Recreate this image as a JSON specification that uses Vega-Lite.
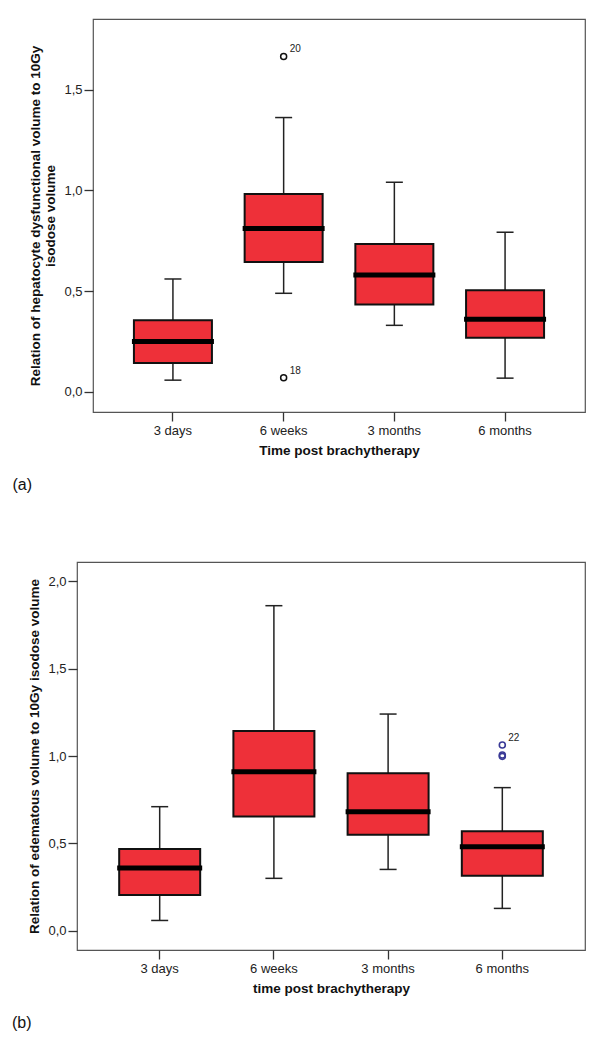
{
  "$schema": "https://vega.github.io/schema/vega-lite/v6.json",
  "background": "white",
  "padding": {"left": 10, "top": 18, "right": 10, "bottom": 5},
  "config": {
    "font": "Liberation Sans",
    "view": {"stroke": "#555", "strokeWidth": 1.2},
    "tick": {"opacity": 1},
    "axis": {"grid": false, "domain": false, "tickColor": "#333", "tickWidth": 1.3, "tickSize": 9, "labelFontSize": 13, "labelColor": "#222", "titleFontSize": 13.5, "titleFontWeight": "bold", "titleColor": "#111"},
    "title": {"fontSize": 16, "fontWeight": "normal", "color": "#111"}
  },
  "datasets": {
    "boxA": [
      {"group": "3 days", "lower": 0.058, "q1": 0.143, "median": 0.25, "q3": 0.355, "upper": 0.56},
      {"group": "6 weeks", "lower": 0.489, "q1": 0.644, "median": 0.81, "q3": 0.982, "upper": 1.361},
      {"group": "3 months", "lower": 0.33, "q1": 0.434, "median": 0.58, "q3": 0.734, "upper": 1.04},
      {"group": "6 months", "lower": 0.068, "q1": 0.268, "median": 0.36, "q3": 0.504, "upper": 0.792}
    ],
    "outA": [
      {"group": "6 weeks", "value": 1.664, "label": "20"},
      {"group": "6 weeks", "value": 0.07, "label": "18"}
    ],
    "boxB": [
      {"group": "3 days", "lower": 0.059, "q1": 0.204, "median": 0.359, "q3": 0.468, "upper": 0.71},
      {"group": "6 weeks", "lower": 0.3, "q1": 0.654, "median": 0.91, "q3": 1.143, "upper": 1.86},
      {"group": "3 months", "lower": 0.351, "q1": 0.55, "median": 0.681, "q3": 0.901, "upper": 1.24},
      {"group": "6 months", "lower": 0.128, "q1": 0.315, "median": 0.481, "q3": 0.569, "upper": 0.819}
    ],
    "outB": [
      {"group": "6 months", "value": 1.063, "label": "22"},
      {"group": "6 months", "value": 1.006, "label": ""},
      {"group": "6 months", "value": 0.998, "label": ""}
    ],
    "empty": []
  },
  "vconcat": [
    {
      "spacing": 0,
      "hconcat": [
        {"width": 1, "height": 1, "view": {"stroke": null}, "data": {"name": "empty"}, "mark": "point"},
        {
          "width": 492,
          "height": 393,
          "title": {"text": "(a)", "orient": "bottom", "anchor": "start", "frame": "bounds", "offset": 20, "dx": -16},
          "encoding": {
            "x": {"field": "group", "type": "nominal", "sort": ["3 days", "6 weeks", "3 months", "6 months"],
                  "scale": {"type": "band", "paddingInner": 0, "paddingOuter": 0.222},
                  "axis": {"title": "Time post brachytherapy", "labelAngle": 0, "labelPadding": 3, "titlePadding": 6}}
          },
          "layer": [
            {
              "data": {"name": "boxA"},
              "mark": {"type": "rule", "color": "#222", "strokeWidth": 1.5},
              "encoding": {
                "y": {"field": "lower", "type": "quantitative",
                      "scale": {"domain": [-0.1, 1.85], "nice": false, "zero": false},
                      "axis": {"title": ["Relation of hepatocyte dysfunctional volume to 10Gy", "isodose volume"], "values": [0, 0.5, 1, 1.5], "labelExpr": "replace(format(datum.value, '.1f'), '.', ',')", "labelPadding": 2, "titlePadding": 6}},
                "y2": {"field": "upper"}
              }
            },
            {
              "data": {"name": "boxA"},
              "mark": {"type": "tick", "color": "#222", "thickness": 1.5, "size": 17},
              "encoding": {"y": {"field": "lower", "type": "quantitative"}}
            },
            {
              "data": {"name": "boxA"},
              "mark": {"type": "tick", "color": "#222", "thickness": 1.5, "size": 17},
              "encoding": {"y": {"field": "upper", "type": "quantitative"}}
            },
            {
              "data": {"name": "boxA"},
              "mark": {"type": "bar", "size": 78, "fill": "#ee3039", "stroke": "#111", "strokeWidth": 2},
              "encoding": {"y": {"field": "q1", "type": "quantitative"}, "y2": {"field": "q3"}}
            },
            {
              "data": {"name": "boxA"},
              "mark": {"type": "tick", "color": "#000", "thickness": 5, "size": 82},
              "encoding": {"y": {"field": "median", "type": "quantitative"}}
            },
            {
              "data": {"name": "outA"},
              "mark": {"type": "point", "shape": "circle", "filled": false, "stroke": "#111", "strokeWidth": 1.5, "size": 36, "opacity": 1},
              "encoding": {"y": {"field": "value", "type": "quantitative"}}
            },
            {
              "data": {"name": "outA"},
              "mark": {"type": "text", "align": "left", "dx": 6, "dy": -7, "fontSize": 10, "color": "#222"},
              "encoding": {"y": {"field": "value", "type": "quantitative"}, "text": {"field": "label"}}
            }
          ]
        }
      ]
    },
    {
      "spacing": 0,
      "hconcat": [
        {"width": 1, "height": 1, "view": {"stroke": null}, "data": {"name": "empty"}, "mark": "point"},
        {
          "width": 508,
          "height": 388,
          "title": {"text": "(b)", "orient": "bottom", "anchor": "start", "frame": "bounds", "offset": 20, "dx": -16},
          "encoding": {
            "x": {"field": "group", "type": "nominal", "sort": ["3 days", "6 weeks", "3 months", "6 months"],
                  "scale": {"type": "band", "paddingInner": 0, "paddingOuter": 0.224},
                  "axis": {"title": "time post brachytherapy", "labelAngle": 0, "labelPadding": 3, "titlePadding": 6}}
          },
          "layer": [
            {
              "data": {"name": "boxB"},
              "mark": {"type": "rule", "color": "#222", "strokeWidth": 1.5},
              "encoding": {
                "y": {"field": "lower", "type": "quantitative",
                      "scale": {"domain": [-0.11, 2.11], "nice": false, "zero": false},
                      "axis": {"title": "Relation of edematous volume to 10Gy isodose volume", "values": [0, 0.5, 1, 1.5, 2], "labelExpr": "replace(format(datum.value, '.1f'), '.', ',')", "labelPadding": 2, "titlePadding": 6}},
                "y2": {"field": "upper"}
              }
            },
            {
              "data": {"name": "boxB"},
              "mark": {"type": "tick", "color": "#222", "thickness": 1.5, "size": 17},
              "encoding": {"y": {"field": "lower", "type": "quantitative"}}
            },
            {
              "data": {"name": "boxB"},
              "mark": {"type": "tick", "color": "#222", "thickness": 1.5, "size": 17},
              "encoding": {"y": {"field": "upper", "type": "quantitative"}}
            },
            {
              "data": {"name": "boxB"},
              "mark": {"type": "bar", "size": 81, "fill": "#ee3039", "stroke": "#111", "strokeWidth": 2},
              "encoding": {"y": {"field": "q1", "type": "quantitative"}, "y2": {"field": "q3"}}
            },
            {
              "data": {"name": "boxB"},
              "mark": {"type": "tick", "color": "#000", "thickness": 5, "size": 85},
              "encoding": {"y": {"field": "median", "type": "quantitative"}}
            },
            {
              "data": {"name": "outB"},
              "mark": {"type": "point", "shape": "circle", "filled": false, "stroke": "#3a3a96", "strokeWidth": 1.6, "size": 36, "opacity": 1},
              "encoding": {"y": {"field": "value", "type": "quantitative"}}
            },
            {
              "data": {"name": "outB"},
              "mark": {"type": "text", "align": "left", "dx": 6, "dy": -7, "fontSize": 10, "color": "#222"},
              "encoding": {"y": {"field": "value", "type": "quantitative"}, "text": {"field": "label"}}
            }
          ]
        }
      ]
    }
  ],
  "spacing": 67
}
